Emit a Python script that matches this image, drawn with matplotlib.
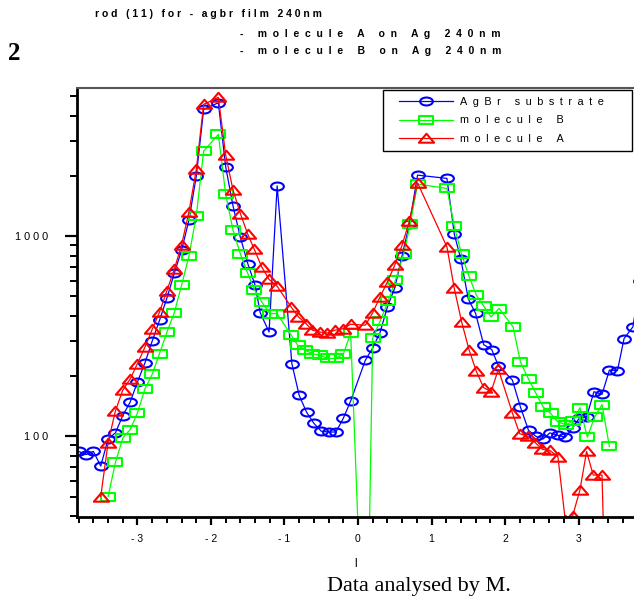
import numpy as np
import matplotlib
matplotlib.use('Agg')
import matplotlib.pyplot as plt
from matplotlib.path import Path

# ---------------- data ----------------
l_agbr = [-3.8, -3.7, -3.6, -3.5, -3.4, -3.3, -3.2, -3.1, -3.0, -2.9, -2.8, -2.7,
          -2.6, -2.5, -2.4, -2.3, -2.2, -2.1, -1.9, -1.8, -1.7, -1.6, -1.5, -1.4,
          -1.33, -1.21, -1.1, -0.9, -0.8, -0.7, -0.6, -0.5, -0.4, -0.3, -0.2, -0.1,
          0.1, 0.2, 0.3, 0.4, 0.5, 0.6, 0.7, 0.81, 1.21, 1.31, 1.4, 1.5, 1.6, 1.71,
          1.82, 1.91, 2.1, 2.21, 2.32, 2.42, 2.52, 2.61, 2.72, 2.82, 2.92, 3.01,
          3.11, 3.21, 3.32, 3.42, 3.53, 3.62, 3.74, 3.84]
i_agbr = [84, 81, 84, 71, 97, 104, 127, 148, 187, 232, 299, 380,
          490, 651, 851, 1202, 1995, 4300, 4640, 2221, 1413, 985, 730, 569,
          414, 332, 1784, 231, 160, 132, 116, 106, 105, 105, 123, 150,
          240, 276, 330, 443, 551, 800, 1150, 2018, 1944, 1023, 765, 486, 411, 287,
          271, 225, 191, 140, 107, 100, 97, 104, 101, 99, 110, 123,
          125, 167, 162, 214, 213, 308, 352, 600]

l_molB = [-3.4, -3.3, -3.2, -3.1, -3.0, -2.9, -2.8, -2.7, -2.6, -2.5, -2.4, -2.3,
          -2.2, -2.1, -1.9, -1.8, -1.7, -1.6, -1.5, -1.41, -1.31, -1.2, -1.1, -0.91,
          -0.82, -0.72, -0.62, -0.52, -0.41, -0.3, -0.2, -0.1, 0.0, 0.1, 0.2, 0.3,
          0.41, 0.51, 0.62, 0.71, 0.81, 1.21, 1.31, 1.41, 1.51, 1.61, 1.71, 1.81,
          1.92, 2.11, 2.21, 2.32, 2.42, 2.52, 2.62, 2.72, 2.83, 2.92, 3.02, 3.12,
          3.22, 3.32, 3.42]
i_molB = [50, 74, 98, 108, 131, 172, 204, 259, 331, 414, 569, 797,
          1264, 2661, 3225, 1616, 1072, 815, 651, 541, 469, 410, 410, 320,
          285, 269, 259, 254, 245, 245, 257, 328, 36, 2.2, 310, 376,
          473, 603, 810, 1144, 1820, 1732, 1122, 810, 631, 507, 447, 395,
          435, 352, 235, 193, 164, 140, 130, 118, 114, 119, 139, 99,
          125, 144, 89]

l_molA = [-3.5, -3.4, -3.3, -3.2, -3.1, -3.0, -2.9, -2.8, -2.7, -2.6, -2.5, -2.4,
          -2.3, -2.2, -2.1, -1.9, -1.8, -1.7, -1.6, -1.5, -1.41, -1.31, -1.21, -1.1,
          -0.91, -0.81, -0.71, -0.62, -0.52, -0.42, -0.31, -0.2, -0.1, 0.1, 0.2, 0.3,
          0.4, 0.5, 0.6, 0.7, 0.81, 1.21, 1.31, 1.41, 1.51, 1.61, 1.71, 1.81,
          1.91, 2.1, 2.2, 2.31, 2.41, 2.51, 2.61, 2.72, 2.82, 2.92, 3.02, 3.11,
          3.2, 3.32, 3.4]
i_molA = [50, 93, 134, 170, 193, 231, 278, 342, 418, 533, 682, 905,
          1323, 2156, 4556, 4937, 2541, 1698, 1295, 1023, 858, 702, 608, 562,
          443, 395, 366, 339, 332, 328, 339, 345, 363, 359, 414, 497,
          591, 716, 902, 1193, 1847, 884, 548, 373, 271, 211, 175, 167,
          216, 131, 103, 100, 93, 86, 85, 79, 38, 40, 54, 84,
          64, 64, 5]

x_major = [-3, -2, -1, 0, 1, 2, 3]
y_major = [100, 1000]
y_minor = [40, 50, 60, 70, 80, 90, 200, 300, 400, 500, 600, 700, 800, 900,
           2000, 3000, 4000, 5000]

title_lines = ['rod (11) for - agbr film 240nm',
               '- molecule A on Ag 240nm',
               '- molecule B on Ag 240nm']
series_names = ['AgBr substrate', 'molecule B', 'molecule A']


def spaced(s, gap=' '):
    # origin-style letter spacing
    return gap.join(s)


# hollow, slightly flattened markers like the original
circ = Path.unit_circle()
m_ell = Path(circ.vertices * np.array([1.0, 0.62]), circ.codes)
m_rect = Path([(-1, -0.6), (1, -0.6), (1, 0.6), (-1, 0.6), (-1, -0.6)],
              [Path.MOVETO, Path.LINETO, Path.LINETO, Path.LINETO, Path.CLOSEPOLY])
m_tri = Path([(-1, -0.55), (1, -0.55), (0, 0.62), (-1, -0.55)],
             [Path.MOVETO, Path.LINETO, Path.LINETO, Path.CLOSEPOLY])

plt.rcParams['font.family'] = ['Liberation Sans', 'DejaVu Sans']

fig = plt.figure(figsize=(6.34, 6.01), dpi=100)
ax = fig.add_axes([77 / 634, 1 - 517 / 601, 1 - 77 / 634, (517 - 88) / 601])

ax.plot(l_agbr, i_agbr, color='#0000ff', lw=0.9, marker=m_ell, ms=9.2,
        mfc='none', mec='#0000ff', mew=1.5, label=spaced(series_names[0], '\u2002'))
ax.plot(l_molB, i_molB, color='#00ff00', lw=0.9, marker=m_rect, ms=9.4,
        mfc='none', mec='#00ff00', mew=1.5, label=spaced(series_names[1], '\u2002'))
ax.plot(l_molA, i_molA, color='#ff0000', lw=0.9, marker=m_tri, ms=11,
        mfc='none', mec='#ff0000', mew=1.5, label=spaced(series_names[2], '\u2002'))

ax.set_yscale('log')
ax.set_xlim(-3.823, 3.755)
ax.set_ylim(39.5, 5500)

ax.set_xticks(x_major)
ax.set_xticklabels(['- %d' % -v if v < 0 else str(v) for v in x_major], fontsize=7.5)
ax.set_xticks(np.round(np.arange(-3.8, 3.8, 0.2), 1), minor=True)
ax.set_yticks(y_major)
ax.set_yticklabels([spaced(str(v)) for v in y_major], fontsize=7.8)
ax.set_yticks(y_minor, minor=True)
ax.yaxis.set_minor_formatter(plt.NullFormatter())

ax.tick_params(axis='both', which='major', direction='out', width=1.6, color='black')
ax.tick_params(axis='x', which='major', length=6, pad=6)
ax.tick_params(axis='x', which='minor', length=4, width=1.4)
ax.tick_params(axis='y', which='major', length=9, pad=12)
ax.tick_params(axis='y', which='minor', length=5, width=1.4)

ax.spines['left'].set_linewidth(2)
ax.spines['bottom'].set_linewidth(2)
ax.spines['top'].set_linewidth(1.5)
ax.spines['top'].set_color('#555555')
ax.spines['right'].set_visible(False)

ax.set_xlabel('l', fontsize=8.5, labelpad=10)

# legend box drawn separately so the inner padding matches the original
box = plt.Rectangle((383 / 634, 1 - 151 / 601), 249 / 634, 61 / 601,
                    transform=fig.transFigure, facecolor='white', edgecolor='black',
                    lw=1.0, zorder=4, clip_on=False)
ax.add_artist(box)
leg = ax.legend(loc='upper left', bbox_to_anchor=(399 / 634, 1 - 97 / 601),
                bbox_transform=fig.transFigure, fontsize=7.8,
                handlelength=5.0, handletextpad=0.6, borderpad=0,
                labelspacing=0.78, frameon=False, borderaxespad=0)
leg.set_zorder(5)

fig.text(95 / 634, 1 - 14 / 601, spaced(title_lines[0]), fontsize=7.5,
         fontweight='bold', va='center', ha='left')
fig.text(240 / 634, 1 - 34 / 601, spaced(title_lines[1], '  '), fontsize=7.5,
         fontweight='bold', va='center', ha='left')
fig.text(240 / 634, 1 - 51 / 601, spaced(title_lines[2], '  '), fontsize=7.5,
         fontweight='bold', va='center', ha='left')
fig.text(8 / 634, 1 - 53 / 601, '2', fontsize=18, fontweight='bold',
         family='Liberation Serif', va='center', ha='left')
fig.text(327 / 634, 1 - 586 / 601, 'Data analysed by M.', fontsize=16,
         family='Liberation Serif', va='center', ha='left')

fig.savefig('out.png', dpi=100)
